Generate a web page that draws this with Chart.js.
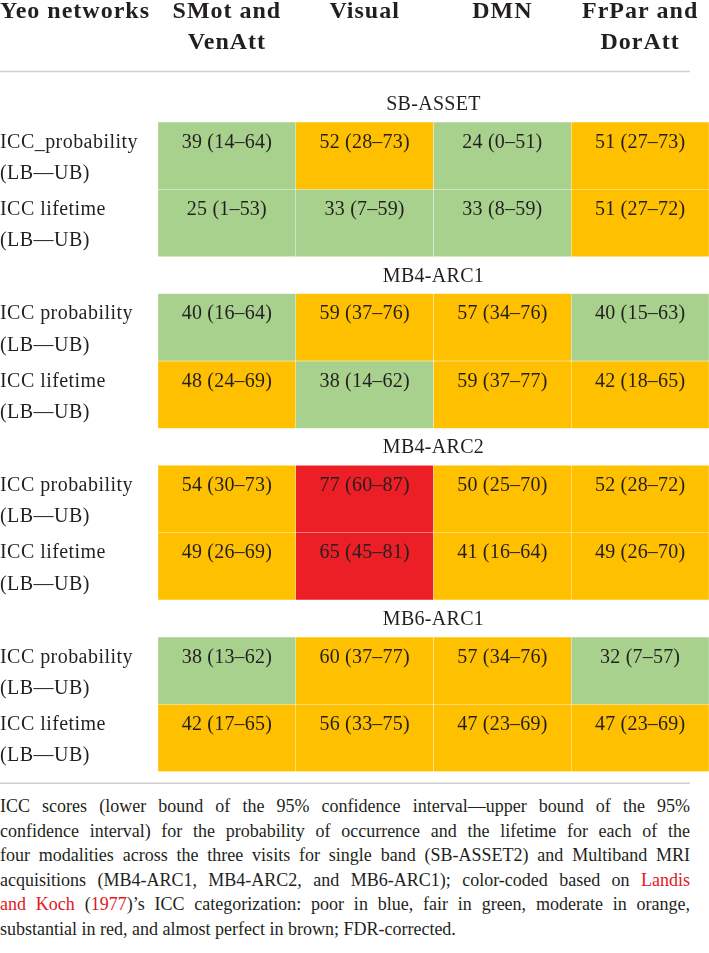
<!DOCTYPE html>
<html>
<head>
<meta charset="utf-8">
<script src="https://cdn.jsdelivr.net/npm/chart.js@4.4.1/dist/chart.umd.min.js"></script>
<style>
  html, body { margin: 0; padding: 0; background: #ffffff; }
  #page { position: relative; width: 709px; height: 953px; overflow: hidden; }
  #wrap { position: absolute; left: 0; top: 0; width: 709px; height: 790px; }
  #caption { position: absolute; left: 0; top: 794px; width: 690px;
    font-family: 'Liberation Serif', 'Times New Roman', serif; font-size: 18px; line-height: 24.6px; color: #231f20; }
  #caption .ln { white-space: nowrap; text-align: justify; text-align-last: justify; }
  #caption .last { text-align-last: left; }
  #caption .ref { color: #e3161e; }
</style>
</head>
<body>
<div id="page">
  <div id="wrap"><canvas id="c"></canvas></div>
  <div id="caption">
    <div class="ln">ICC scores (lower bound of the 95% confidence interval—upper bound of the 95%</div>
    <div class="ln">confidence interval) for the probability of occurrence and the lifetime for each of the</div>
    <div class="ln">four modalities across the three visits for single band (SB-ASSET2) and Multiband MRI</div>
    <div class="ln">acquisitions (MB4-ARC1, MB4-ARC2, and MB6-ARC1); color-coded based on <span class="ref">Landis</span></div>
    <div class="ln"><span class="ref">and Koch</span> (<span class="ref">1977</span>)’s ICC categorization: poor in blue, fair in green, moderate in orange,</div>
    <div class="ln last">substantial in red, and almost perfect in brown; FDR-corrected.</div>
  </div>
</div>
<script>
// ---- data ----
const cornerLabel = 'Yeo networks';
const networks = ['SMot and VenAtt', 'Visual', 'DMN', 'FrPar and DorAtt'];
const networkHeaderLines = [['SMot and', 'VenAtt'], ['Visual'], ['DMN'], ['FrPar and', 'DorAtt']];
const acquisitions = ['SB-ASSET', 'MB4-ARC1', 'MB4-ARC2', 'MB6-ARC1'];
const rowLabels = [
  'ICC_probability', 'ICC lifetime',
  'ICC probability', 'ICC lifetime',
  'ICC probability', 'ICC lifetime',
  'ICC probability', 'ICC lifetime'
];
const rowSubLabel = '(LB\u2014UB)';
const iccValues = [
  [39, 52, 24, 51],
  [25, 33, 33, 51],
  [40, 59, 57, 40],
  [48, 38, 59, 42],
  [54, 77, 50, 52],
  [49, 65, 41, 49],
  [38, 60, 57, 32],
  [42, 56, 47, 47]
];
const lowerBounds = [
  [14, 28, 0, 27],
  [1, 7, 8, 27],
  [16, 37, 34, 15],
  [24, 14, 37, 18],
  [30, 60, 25, 28],
  [26, 45, 16, 26],
  [13, 37, 34, 7],
  [17, 33, 23, 23]
];
const upperBounds = [
  [64, 73, 51, 73],
  [53, 59, 59, 72],
  [64, 76, 76, 63],
  [69, 62, 77, 65],
  [73, 87, 70, 72],
  [69, 81, 64, 70],
  [62, 77, 76, 57],
  [65, 75, 69, 69]
];

// ---- styling / layout ----
const SERIF = "'Liberation Serif', 'Times New Roman', serif";
const TEXT = '#231f20';
const rowsPerGroup = 2;
const groupGap = 0.55;
const categoryColors = { poor: '#5b9bd5', fair: '#a9d18e', moderate: '#ffc000', substantial: '#ed1f26', almostPerfect: '#8b5a2b' };
function iccColor(v) {
  if (v <= 20) return categoryColors.poor;
  if (v <= 40) return categoryColors.fair;
  if (v <= 60) return categoryColors.moderate;
  if (v <= 80) return categoryColors.substantial;
  return categoryColors.almostPerfect;
}
function rowStart(k) {
  const g = Math.floor(k / rowsPerGroup), r = k % rowsPerGroup;
  return g * (rowsPerGroup + groupGap) + r;
}
const yMax = acquisitions.length * rowsPerGroup + (acquisitions.length - 1) * groupGap;

const datasets = iccValues.map((row, k) => ({
  label: rowLabels[k],
  data: row.map(() => [rowStart(k), rowStart(k) + 1]),
  backgroundColor: row.map(v => iccColor(v)),
  borderColor: 'rgba(255,255,255,0.12)',
  borderWidth: 0.5,
  borderSkipped: false,
  categoryPercentage: 1,
  barPercentage: 1,
  grouped: false
}));

const tablePlugin = {
  id: 'tableText',
  afterDatasetsDraw(chart) {
    const ctx = chart.ctx;
    const xs = chart.scales.x;
    const area = chart.chartArea;
    ctx.save();
    ctx.fillStyle = TEXT;
    ctx.textBaseline = 'alphabetic';

    // header
    ctx.font = 'bold 24px ' + SERIF;
    if ('letterSpacing' in ctx) ctx.letterSpacing = '1px';
    ctx.textAlign = 'left';
    ctx.fillText(cornerLabel, 0, 18);
    ctx.textAlign = 'center';
    networkHeaderLines.forEach((lines, i) => {
      const x = xs.getPixelForValue(i);
      lines.forEach((t, j) => ctx.fillText(t, x, 18 + j * 31));
    });

    // rules
    ctx.strokeStyle = '#cfcfcf';
    ctx.lineWidth = 1.5;
    [71.5, 783.3].forEach(y => {
      ctx.beginPath(); ctx.moveTo(0, y); ctx.lineTo(690, y); ctx.stroke();
    });

    // section labels
    ctx.font = '20px ' + SERIF;
    if ('letterSpacing' in ctx) ctx.letterSpacing = '0.3px';
    const midX = (area.left + area.right) / 2;
    acquisitions.forEach((name, g) => {
      const meta = chart.getDatasetMeta(g * rowsPerGroup);
      const el = meta.data[0];
      const top = Math.min(el.y, el.base);
      ctx.textAlign = 'center';
      ctx.fillText(name, midX, top - 12);
    });

    // row labels and cell values
    iccValues.forEach((row, k) => {
      const meta = chart.getDatasetMeta(k);
      row.forEach((v, i) => {
        const el = meta.data[i];
        const top = Math.min(el.y, el.base);
        ctx.textAlign = 'center';
        if ('letterSpacing' in ctx) ctx.letterSpacing = '0.2px';
        ctx.fillText(v + ' (' + lowerBounds[k][i] + '\u2013' + upperBounds[k][i] + ')', el.x, top + 25.5);
        if (i === 0) {
          ctx.textAlign = 'left';
          if ('letterSpacing' in ctx) ctx.letterSpacing = '0.45px';
          ctx.fillText(rowLabels[k], 0, top + 25.5);
          ctx.fillText(rowSubLabel, 0, top + 57);
        }
      });
    });
    ctx.restore();
  }
};

new Chart(document.getElementById('c'), {
  type: 'bar',
  data: { labels: networks, datasets },
  options: {
    responsive: true,
    maintainAspectRatio: false,
    animation: false,
    layout: { padding: { left: 158, top: 122, right: 0, bottom: 18.3 } },
    plugins: { legend: { display: false }, tooltip: { enabled: false } },
    scales: {
      x: { display: false, offset: true, grid: { display: false } },
      y: { display: false, min: 0, max: yMax, reverse: true, grid: { display: false } }
    }
  },
  plugins: [tablePlugin]
});
</script>
</body>
</html>
